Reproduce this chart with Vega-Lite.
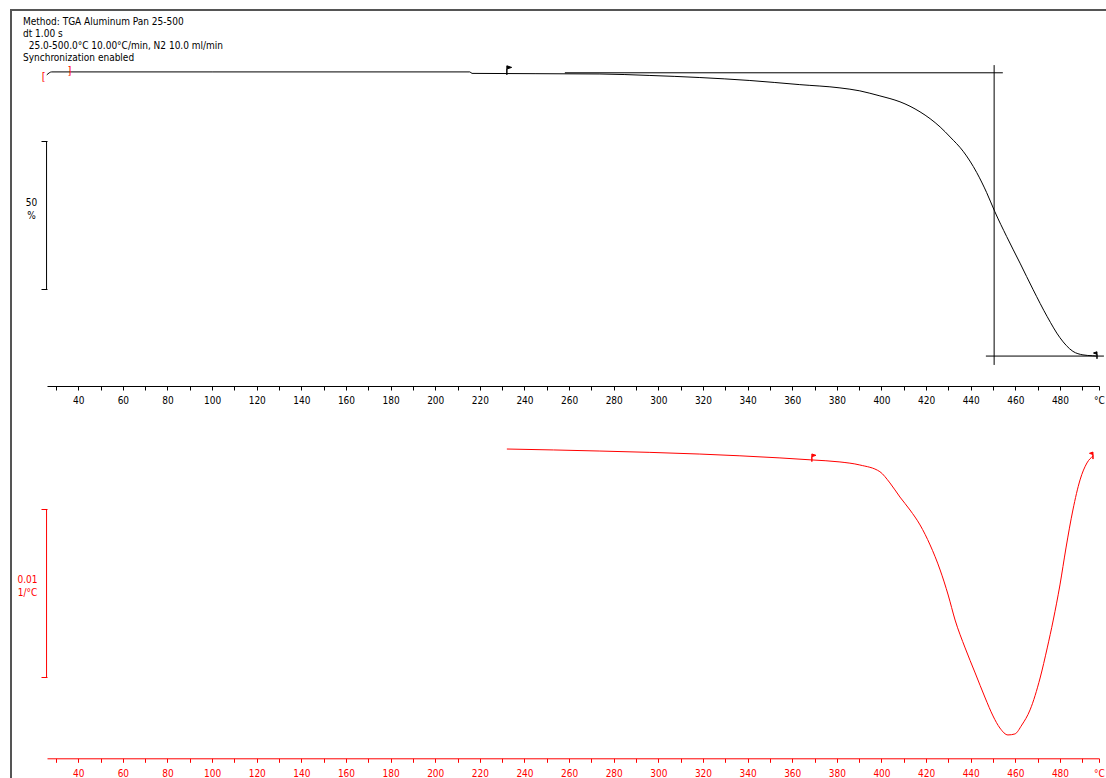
{
  "$schema": "https://vega.github.io/schema/vega-lite/v6.json",
  "width": 1101,
  "height": 774,
  "autosize": {"type": "none"},
  "padding": {"left": 11, "top": 10, "right": -6, "bottom": -6},
  "background": "white",
  "config": {
    "view": {"stroke": "#555555", "strokeWidth": 2},
    "font": "DejaVu Sans Condensed"
  },
  "title": {
    "text": ["Method: TGA Aluminum Pan 25-500", "dt 1.00 s", "\u200b\u00a0\u00a025.0-500.0°C 10.00°C/min, N2 10.0 ml/min", "Synchronization enabled"],
    "anchor": "start",
    "frame": "group",
    "orient": "top",
    "baseline": "top",
    "offset": -53,
    "dx": 12,
    "fontSize": 10,
    "fontWeight": "normal",
    "font": "DejaVu Sans Condensed",
    "lineHeight": 12,
    "color": "black"
  },
  "datasets": {
    "tga": [
      {"T": 25.9, "w": 99.2}, {"T": 28.1, "w": 100.2}, {"T": 100, "w": 100.2}, {"T": 215.5, "w": 100.2},
      {"T": 216.5, "w": 99.7}, {"T": 273.8, "w": 99.5}, {"T": 296.2, "w": 99.0}, {"T": 318.6, "w": 98.3},
      {"T": 341.0, "w": 97.3}, {"T": 363.4, "w": 95.9}, {"T": 381.4, "w": 94.8}, {"T": 390.3, "w": 93.8},
      {"T": 394.8, "w": 93.0}, {"T": 399.3, "w": 92.1}, {"T": 403.8, "w": 91.2}, {"T": 408.3, "w": 90.1},
      {"T": 412.8, "w": 88.6}, {"T": 417.3, "w": 86.7}, {"T": 421.8, "w": 84.4}, {"T": 426.3, "w": 81.6},
      {"T": 430.8, "w": 78.2}, {"T": 436.6, "w": 73.4}, {"T": 442.7, "w": 66.2}, {"T": 447.1, "w": 59.5},
      {"T": 450.8, "w": 53.0}, {"T": 456.1, "w": 44.6}, {"T": 462.1, "w": 35.6}, {"T": 468.0, "w": 26.6},
      {"T": 474.3, "w": 17.5}, {"T": 480.0, "w": 10.4}, {"T": 485.8, "w": 5.8}, {"T": 490.3, "w": 4.6},
      {"T": 494.6, "w": 4.3}, {"T": 496.4, "w": 4.2}
    ],
    "tgaRules": [
      {"T": 258.1, "T2": 454.4, "w": 99.9, "w2": 99.9},
      {"T": 446.8, "T2": 499.7, "w": 4.2, "w2": 4.2},
      {"T": 450.5, "T2": 450.5, "w": 102.5, "w2": 1.2},
      {"T": 25.8, "T2": 25.8, "w": 26.85, "w2": 76.85}
    ],
    "tgaBrackets": [
      {"T": 24.5, "w": 98.5, "s": "["},
      {"T": 36.1, "w": 100.6, "s": "]"}
    ],
    "dtg": [
      {"T": 232.1, "d": -0.00012}, {"T": 273.8, "d": -0.00024}, {"T": 318.6, "d": -0.00042}, {"T": 354.5, "d": -0.00065},
      {"T": 368.8, "d": -0.00077}, {"T": 381.4, "d": -0.00089}, {"T": 390.3, "d": -0.00107}, {"T": 399.3, "d": -0.00147},
      {"T": 403.8, "d": -0.00214}, {"T": 408.3, "d": -0.00298}, {"T": 412.8, "d": -0.00375}, {"T": 417.3, "d": -0.00464},
      {"T": 421.8, "d": -0.00583}, {"T": 426.3, "d": -0.00732}, {"T": 429.9, "d": -0.00881}, {"T": 433.0, "d": -0.0103},
      {"T": 437.5, "d": -0.01196}, {"T": 442.0, "d": -0.01345}, {"T": 446.5, "d": -0.01494}, {"T": 450.0, "d": -0.01601},
      {"T": 453.1, "d": -0.01673}, {"T": 456.7, "d": -0.01714}, {"T": 459.8, "d": -0.01708}, {"T": 462.9, "d": -0.01655},
      {"T": 466.6, "d": -0.01565}, {"T": 471.1, "d": -0.01375}, {"T": 474.3, "d": -0.01196}, {"T": 477.0, "d": -0.0103},
      {"T": 480.0, "d": -0.00821}, {"T": 482.7, "d": -0.00601}, {"T": 485.8, "d": -0.00375}, {"T": 489.0, "d": -0.00196},
      {"T": 492.1, "d": -0.00095}, {"T": 494.8, "d": -0.00054}
    ],
    "dtgRules": [
      {"T": 25.8, "T2": 25.8, "d": -0.0137, "d2": -0.0037}
    ]
  },
  "layer": [
    {
      "encoding": {
        "x": {
          "field": "T", "type": "quantitative",
          "scale": {"domain": [26, 497.5], "range": [36, 1088], "nice": false, "zero": false},
          "axis": {
            "orient": "bottom", "offset": -398,
            "values": [30,40,50,60,70,80,90,100,110,120,130,140,150,160,170,180,190,200,210,220,230,240,250,260,270,280,290,300,310,320,330,340,350,360,370,380,390,400,410,420,430,440,450,460,470,480,490,497.5],
            "labelExpr": "datum.value == 497.5 ? '°C' : (datum.value % 20 == 0 ? datum.label : '')",
            "domainColor": "black", "domainWidth": 1, "tickColor": "black", "tickSize": 4, "tickWidth": 1,
            "labelColor": "black", "labelFontSize": 10, "labelFont": "DejaVu Sans Condensed", "labelPadding": 5,
            "labelOverlap": false, "labelFlush": false, "labelBound": false,
            "grid": false, "title": null
          }
        }
      },
      "layer": [
        {
          "data": {"name": "tga"},
          "mark": {"type": "line", "color": "black", "strokeWidth": 1, "interpolate": "monotone"},
          "encoding": {
            "y": {
              "field": "w", "type": "quantitative",
              "scale": {"domain": [0, 100], "range": [358.5, 62.5], "nice": false, "zero": false},
              "axis": {
                "orient": "left", "offset": -36, "values": [26.85, 76.85],
                "domain": false, "ticks": true, "tickSize": 6, "tickColor": "black", "tickWidth": 1,
                "labels": false, "grid": false,
                "title": ["50", "%"], "titleAngle": 0, "titleX": -16, "titleY": 192,
                "titleAlign": "center", "titleBaseline": "middle", "titleFontSize": 10,
                "titleFontWeight": "normal", "titleColor": "black", "titleLineHeight": 13.5,
                "titleFont": "DejaVu Sans Condensed"
              }
            }
          }
        },
        {
          "data": {"name": "tgaRules"},
          "mark": {"type": "rule", "color": "black", "strokeWidth": 1},
          "encoding": {
            "x2": {"field": "T2"},
            "y": {"field": "w", "type": "quantitative"},
            "y2": {"field": "w2"}
          }
        },
        {
          "data": {"name": "tgaBrackets"},
          "mark": {"type": "text", "color": "#ff0000", "fontSize": 11, "align": "center", "baseline": "middle", "font": "DejaVu Sans Condensed"},
          "encoding": {
            "y": {"field": "w", "type": "quantitative"},
            "text": {"field": "s"}
          }
        },
        {
          "data": {"values": [{"T": 232.1, "w": 100.1}]},
          "mark": {"type": "point", "shape": "M0,0.4L0,-1L0.75,-0.75L0,-0.5Z", "size": 164, "filled": true, "fill": "black", "stroke": "black", "strokeWidth": 1, "opacity": 1},
          "encoding": {"y": {"field": "w", "type": "quantitative"}}
        },
        {
          "data": {"values": [{"T": 496.6, "w": 4.3}]},
          "mark": {"type": "point", "shape": "M0,0.6L0,-0.8L-0.7,-0.55L0,-0.3Z", "size": 100, "filled": true, "fill": "black", "stroke": "black", "strokeWidth": 1, "opacity": 1},
          "encoding": {"y": {"field": "w", "type": "quantitative"}}
        }
      ]
    },
    {
      "encoding": {
        "x": {
          "field": "T", "type": "quantitative",
          "scale": {"domain": [26, 497.5], "range": [36, 1088], "nice": false, "zero": false},
          "axis": {
            "orient": "bottom", "offset": -25.7,
            "values": [30,40,50,60,70,80,90,100,110,120,130,140,150,160,170,180,190,200,210,220,230,240,250,260,270,280,290,300,310,320,330,340,350,360,370,380,390,400,410,420,430,440,450,460,470,480,490,497.5],
            "labelExpr": "datum.value == 497.5 ? '°C' : (datum.value % 20 == 0 ? datum.label : '')",
            "domainColor": "#ff0000", "domainWidth": 1, "tickColor": "#ff0000", "tickSize": 4, "tickWidth": 1,
            "labelColor": "#ff0000", "labelFontSize": 10, "labelFont": "DejaVu Sans Condensed", "labelPadding": 6,
            "labelOverlap": false, "labelFlush": false, "labelBound": false,
            "grid": false, "title": null
          }
        }
      },
      "layer": [
        {
          "data": {"name": "dtg"},
          "mark": {"type": "line", "color": "#ff0000", "strokeWidth": 1, "interpolate": "monotone"},
          "encoding": {
            "y": {
              "field": "d", "type": "quantitative",
              "scale": {"domain": [-0.02, 0], "range": [773, 437], "nice": false, "zero": false},
              "axis": {
                "orient": "left", "offset": -36, "values": [-0.0137, -0.0037],
                "domain": false, "ticks": true, "tickSize": 6, "tickColor": "#ff0000", "tickWidth": 1,
                "labels": false, "grid": false,
                "title": ["0.01", "1/°C"], "titleAngle": 0, "titleX": -20, "titleY": 569.5,
                "titleAlign": "center", "titleBaseline": "middle", "titleFontSize": 10,
                "titleFontWeight": "normal", "titleColor": "#ff0000", "titleLineHeight": 13,
                "titleFont": "DejaVu Sans Condensed"
              }
            }
          }
        },
        {
          "data": {"name": "dtgRules"},
          "mark": {"type": "rule", "color": "#ff0000", "strokeWidth": 1},
          "encoding": {
            "x2": {"field": "T2"},
            "y": {"field": "d", "type": "quantitative"},
            "y2": {"field": "d2"}
          }
        },
        {
          "data": {"values": [{"T": 368.8, "d": -0.00074}]},
          "mark": {"type": "point", "shape": "M0,0.4L0,-1L0.75,-0.75L0,-0.5Z", "size": 120, "filled": true, "fill": "#ff0000", "stroke": "#ff0000", "strokeWidth": 1, "opacity": 1},
          "encoding": {"y": {"field": "d", "type": "quantitative"}}
        },
        {
          "data": {"values": [{"T": 494.8, "d": -0.00054}]},
          "mark": {"type": "point", "shape": "M0,0.6L0,-0.8L-0.7,-0.55L0,-0.3Z", "size": 100, "filled": true, "fill": "#ff0000", "stroke": "#ff0000", "strokeWidth": 1, "opacity": 1},
          "encoding": {"y": {"field": "d", "type": "quantitative"}}
        }
      ]
    }
  ],
  "resolve": {"scale": {"y": "independent"}, "axis": {"x": "independent", "y": "independent"}}
}
